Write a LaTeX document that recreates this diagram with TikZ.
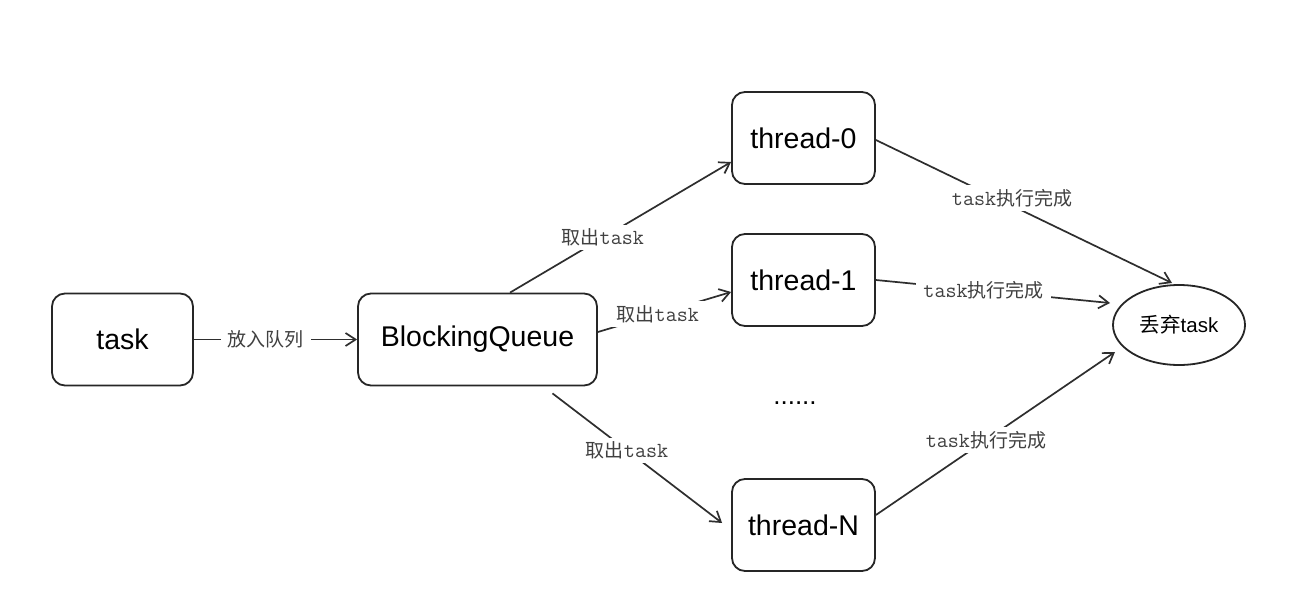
\documentclass[tikz,border=0pt]{standalone}
\usepackage{fontspec}
\setmainfont{Liberation Sans}
\newfontfamily\cjk{Noto Sans CJK SC}
\newcommand\mtask{{\ttfamily\fontsize{21.5}{22}\selectfont task}}
\usetikzlibrary{arrows.meta,calc,shapes.geometric}
\begin{document}
\begin{tikzpicture}[x=1pt,y=-1pt,
  box/.style={draw=black!85,line width=1.8pt,rounded corners=13pt,minimum width=141pt,minimum height=92pt,inner sep=0pt,font=\fontsize{28.5}{32}\selectfont},
  conn/.style={draw=black!82,line width=1.7pt,-{Straight Barb[length=10pt,width=13pt,line width=1.7pt]}},
  lbl/.style={fill=white,inner xsep=7pt,inner ysep=4pt,text=black!75,font=\fontsize{19}{22}\selectfont}
]
\useasboundingbox[fill=white] (0,0) rectangle (1307,605);
\node[box] (task) at (122.5,339.5) {task};
\node[box,minimum width=239pt] (bq) at (477.5,339.5) {BlockingQueue};
\node[box,minimum width=143pt] (t0) at (803.5,138) {thread-0};
\node[box,minimum width=143pt] (t1) at (803.5,280) {thread-1};
\node[box,minimum width=143pt] (tN) at (803.5,525) {thread-N};
\node[draw=black!85,line width=1.8pt,ellipse,minimum width=132pt,minimum height=80pt,inner sep=0pt,font=\fontsize{20.5}{24}\selectfont] (drop) at (1179,325) {{\cjk 丢弃}task};
\node[font=\fontsize{26}{28}\selectfont] (dots) at (795,403) {......};

\coordinate (sN) at ($(bq.south)+(75,7)$);
\coordinate (eN) at ($(tN.west)+(-9,-2)$);
\coordinate (e0) at ($(drop.center)+(-7,-42)$);
\coordinate (e1) at ($(drop.center)+(-69,-22)$);
\coordinate (e2) at ($(drop.center)+(-64,27)$);

\draw[conn] (task.east) -- node[lbl,pos=0.44] {\cjk 放入队列} (bq.west);
\draw[conn] ($(bq.north)+(32.5,0)$) -- node[lbl,pos=0.42] {{\cjk 取出}\mtask} ($(t0.west)+(0,24)$);
\draw[conn] ($(bq.east)+(0,-7.5)$) -- node[lbl,pos=0.45] {{\cjk 取出}\mtask} ($(t1.west)+(0,12)$);
\draw[conn] (sN) -- node[lbl,pos=0.44] {{\cjk 取出}\mtask} (eN);
\draw[conn] ($(t0.east)+(0,2)$) -- node[lbl,pos=0.46,yshift=8pt] {\mtask{\cjk 执行完成}} (e0);
\draw[conn] (t1.east) -- node[lbl,pos=0.46] {\mtask{\cjk 执行完成}} (e1);
\draw[conn] ($(tN.east)+(0,-10)$) -- node[lbl,pos=0.46] {\mtask{\cjk 执行完成}} (e2);
\end{tikzpicture}
\end{document}
